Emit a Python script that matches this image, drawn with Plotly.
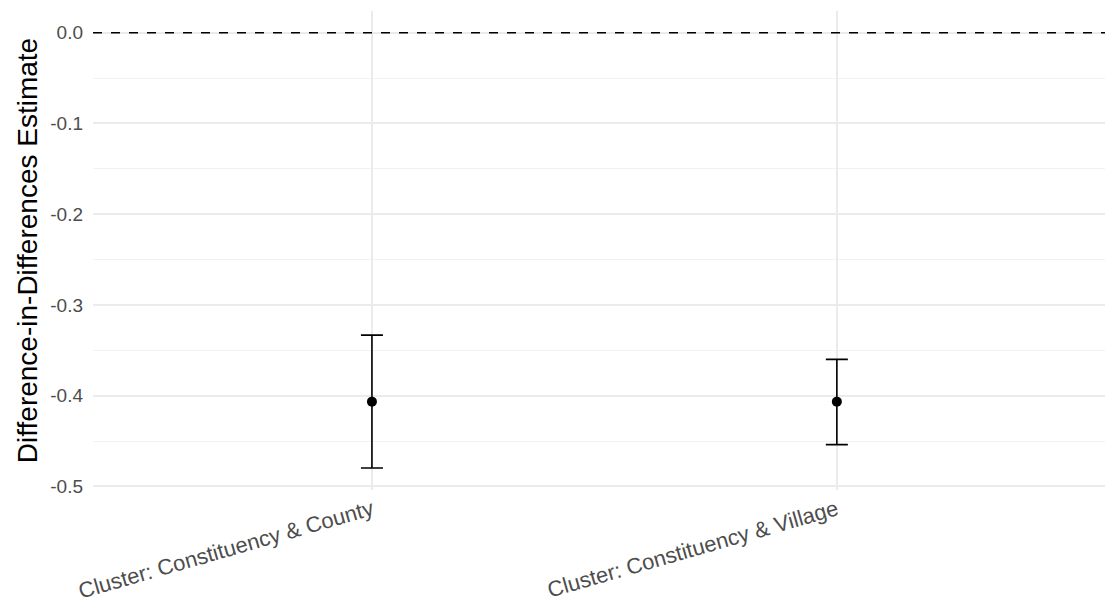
import plotly.graph_objects as go

categories = ["Cluster: Constituency & County", "Cluster: Constituency & Village"]
estimates = [-0.4066, -0.4066]
ci_upper = [-0.3333, -0.3600]
ci_lower = [-0.4798, -0.4540]
y_ticks = [0.0, -0.1, -0.2, -0.3, -0.4, -0.5]
y_tick_labels = ["0.0", "-0.1", "-0.2", "-0.3", "-0.4", "-0.5"]

err_plus = [u - e for u, e in zip(ci_upper, estimates)]
err_minus = [e - l for e, l in zip(estimates, ci_lower)]

FONT = "Liberation Sans, Arial, Helvetica, sans-serif"

fig = go.Figure()
fig.add_trace(go.Scatter(
    x=categories, y=estimates, mode="markers",
    marker=dict(color="black", size=10),
    error_y=dict(type="data", symmetric=False, array=err_plus, arrayminus=err_minus,
                 color="black", thickness=1.6, width=11),
    showlegend=False,
))
fig.add_hline(y=0, line=dict(color="black", width=1.3, dash="dash"))

fig.update_layout(
    width=1105, height=605,
    margin=dict(l=85, r=0, t=3, b=123),
    plot_bgcolor="white", paper_bgcolor="white",
    font=dict(family=FONT, color="#4D4D4D", size=16),
    xaxis=dict(
        range=[-0.6, 1.594], showgrid=True, gridcolor="#EBEBEB", gridwidth=1.5,
        tickangle=-16, ticks="", zeroline=False, showline=False, automargin=False,
        tickfont=dict(family=FONT, size=22, color="#4D4D4D"),
        ticklabelstandoff=2,
    ),
    yaxis=dict(
        range=[-0.504, 0.024], tickvals=y_ticks, ticktext=y_tick_labels,
        showgrid=True, gridcolor="#EBEBEB", gridwidth=1.5, zeroline=False,
        ticks="", showline=False, automargin=False,
        tickfont=dict(family=FONT, size=19, color="#4D4D4D"),
        ticklabelstandoff=9,
        minor=dict(dtick=0.05, tick0=0, showgrid=True, gridcolor="#F2F2F2", gridwidth=1),
        title=dict(text="Difference-in-Differences Estimate", standoff=4,
                   font=dict(family=FONT, size=28, color="black")),
    ),
)

fig.write_html("out.html")
